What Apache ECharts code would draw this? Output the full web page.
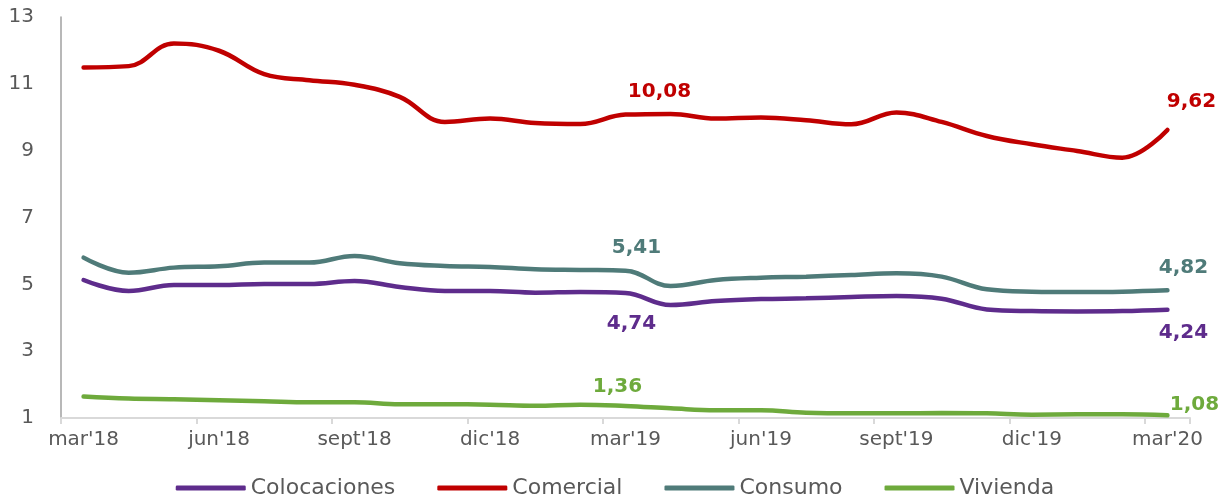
<!DOCTYPE html>
<html>
<head>
<meta charset="utf-8">
<script src="https://cdn.jsdelivr.net/npm/echarts@6/dist/echarts.min.js"></script>
<style>
html,body{margin:0;padding:0;background:#fff;}
#chart{width:1230px;height:499px;}
</style>
</head>
<body>
<div id="chart"></div>
<script>
var categories = ["mar'18","abr'18","may'18","jun'18","jul'18","ago'18","sept'18","oct'18","nov'18","dic'18","ene'19","feb'19","mar'19","abr'19","may'19","jun'19","jul'19","ago'19","sept'19","oct'19","nov'19","dic'19","ene'20","feb'20","mar'20"];
var colocaciones = [5.13,4.80,4.98,4.98,5.01,5.01,5.10,4.92,4.80,4.80,4.75,4.77,4.74,4.38,4.50,4.56,4.58,4.62,4.65,4.57,4.25,4.20,4.19,4.20,4.24];
var comercial = [11.49,11.53,12.21,11.99,11.29,11.11,10.97,10.61,9.86,9.96,9.83,9.80,10.08,10.10,9.96,9.99,9.91,9.79,10.14,9.86,9.44,9.19,8.99,8.79,9.62];
var consumo = [5.80,5.35,5.50,5.54,5.65,5.65,5.85,5.63,5.55,5.52,5.45,5.43,5.41,4.95,5.13,5.20,5.23,5.28,5.33,5.23,4.85,4.78,4.77,4.78,4.82];
var vivienda = [1.64,1.58,1.56,1.53,1.50,1.47,1.47,1.41,1.41,1.40,1.37,1.40,1.36,1.29,1.23,1.23,1.16,1.14,1.14,1.15,1.14,1.10,1.11,1.11,1.08];
var yTicks = [1,3,5,7,9,11,13];

var FONT = "DejaVu Sans";
function fmt(v){ return v.toFixed(2).replace('.', ','); }

function buildData(values, color, labelOffsets){
  return values.map(function(v, i){
    var item = {value: v};
    if (labelOffsets[i]) {
      item.label = {
        show: true,
        position: 'inside',
        offset: labelOffsets[i],
        formatter: function(p){ return fmt(p.value); },
        color: color,
        fontFamily: FONT,
        fontWeight: 'bold',
        fontSize: 20
      };
    }
    return item;
  });
}

function mkSeries(name, values, color, labelOffsets){
  return {
    name: name,
    type: 'line',
    smooth: 0.4,
    symbol: 'circle',
    symbolSize: 1,
    showSymbol: true,
    itemStyle: {color: color},
    lineStyle: {color: color, width: 4.5, cap: 'round'},
    label: {show: false},
    emphasis: {disabled: true},
    data: buildData(values, color, labelOffsets)
  };
}

var chart = echarts.init(document.getElementById('chart'), null, {renderer: 'canvas'});
chart.setOption({
  animation: false,
  backgroundColor: '#ffffff',
  grid: {left: 61, right: 40, top: 17, bottom: 81, containLabel: false},
  legend: {
    bottom: -5,
    left: 'center',
    icon: 'roundRect',
    itemWidth: 70,
    itemHeight: 5,
    itemGap: 42,
    textStyle: {fontFamily: FONT, fontSize: 22, color: '#595959'},
    data: ['Colocaciones','Comercial','Consumo','Vivienda']
  },
  xAxis: {
    type: 'category',
    data: categories,
    boundaryGap: true,
    axisLine: {show: true, lineStyle: {color: '#D9D9D9', width: 2}},
    axisTick: {show: true, interval: 2, length: 6, lineStyle: {color: '#D9D9D9', width: 2}},
    axisLabel: {interval: 2, margin: 12, fontFamily: FONT, fontSize: 20, color: '#595959'},
    splitLine: {show: false}
  },
  yAxis: {
    type: 'value',
    min: yTicks[0],
    max: yTicks[yTicks.length-1],
    interval: 2,
    axisLine: {show: true, lineStyle: {color: '#A0A0A0', width: 1.5}},
    axisTick: {show: false},
    axisLabel: {margin: 27, fontFamily: FONT, fontSize: 20, color: '#595959'},
    splitLine: {show: false}
  },
  series: [
    mkSeries('Colocaciones', colocaciones, '#5E2C8C', {12: [6, 31], 24: [16, 23]}),
    mkSeries('Comercial', comercial, '#C00000', {12: [34, -23], 24: [24, -28]}),
    mkSeries('Consumo', consumo, '#4F7B79', {12: [11, -23], 24: [16, -23]}),
    mkSeries('Vivienda', vivienda, '#6EAA3C', {12: [-8, -19], 24: [27, -11]})
  ]
});
</script>
</body>
</html>
